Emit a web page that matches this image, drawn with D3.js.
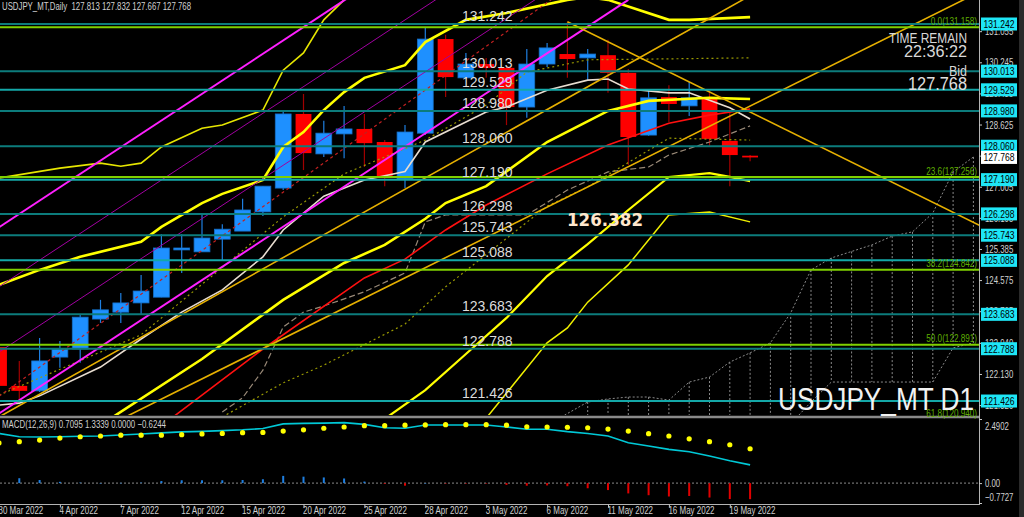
<!DOCTYPE html>
<html><head><meta charset="utf-8">
<script src="https://cdn.jsdelivr.net/npm/d3@7"></script>
<style>html,body{margin:0;padding:0;background:#000;overflow:hidden}text{white-space:pre}</style>
</head><body><svg id="c" width="1024" height="517"></svg>
<script>
// ---------------- DATA ----------------
const dates=["30 Mar 2022","31 Mar 2022","1 Apr 2022","4 Apr 2022","5 Apr 2022","6 Apr 2022","7 Apr 2022","8 Apr 2022","11 Apr 2022","12 Apr 2022","13 Apr 2022","14 Apr 2022","15 Apr 2022","18 Apr 2022","19 Apr 2022","20 Apr 2022","21 Apr 2022","22 Apr 2022","25 Apr 2022","26 Apr 2022","27 Apr 2022","28 Apr 2022","29 Apr 2022","2 May 2022","3 May 2022","4 May 2022","5 May 2022","6 May 2022","9 May 2022","10 May 2022","11 May 2022","12 May 2022","13 May 2022","16 May 2022","17 May 2022","18 May 2022","19 May 2022","20 May 2022"];
const open =[122.83,121.82,121.69,122.57,122.78,123.56,123.74,123.98,124.13,125.36,125.31,125.64,125.85,126.35,126.97,128.90,127.86,128.38,128.51,128.17,127.21,128.40,130.85,129.84,130.20,130.10,129.08,130.20,130.46,130.36,130.43,129.97,128.35,129.34,129.11,129.34,128.20,127.813];
const high =[122.95,122.47,123.07,122.99,123.67,124.06,124.24,124.71,125.77,125.77,126.30,126.03,126.69,127.02,128.98,129.42,128.72,129.11,128.90,128.22,128.61,131.16,130.96,130.49,130.36,130.14,130.59,130.75,131.30,130.59,130.83,130.07,129.52,129.65,129.73,129.47,128.98,127.832];
const low  =[121.60,121.40,121.66,122.29,122.42,123.46,123.46,123.69,124.13,124.76,125.31,125.10,125.85,126.24,126.92,127.44,127.78,127.75,127.52,127.02,126.97,128.35,129.34,129.82,129.84,128.61,128.80,130.12,129.84,129.78,129.45,127.57,128.33,128.69,128.85,128.04,127.02,127.667];
const close=[121.82,121.69,122.47,122.78,123.61,123.80,123.98,124.29,125.41,125.41,125.67,125.90,126.40,127.02,128.90,127.88,128.40,128.51,128.14,127.23,128.43,130.85,129.86,130.20,130.10,129.08,130.20,130.62,130.33,130.46,129.97,128.30,129.32,129.16,129.32,128.25,127.83,127.768];

// indicator lines: [bar index, price]
const bandUpper1=[[0,127.23],[3,127.49],[5,127.62],[6,127.54],[7,127.62],[8,128.04],[10,128.53],[11,128.61],[13,129.00],[14,130.04],[15,130.49],[16,131.35],[17,131.87],[18,132.60]];
const bandUpper2=[[0,124.45],[2,124.84],[4,125.18],[7,125.57],[8,125.96],[10,126.58],[11,126.82],[13,127.18],[14,128.04],[15,128.43],[16,129.00],[17,129.47],[18,129.84],[20,130.17],[21,130.77],[23,131.35],[25,131.53],[28,131.87],[29,131.94],[30,131.87],[33,131.35],[34,131.35],[37,131.42]];
const bandLow1=[[5,120.80],[10,122.52],[14,124.06],[17,125.02],[19,125.49],[21,126.17],[22,126.58],[24,127.02],[27,128.17],[30,128.98],[32,129.24],[35,129.32],[37,129.29]];
const bandLow2=[[19,120.96],[21,121.71],[23,122.65],[25,123.59],[27,124.68],[29,125.51],[31,126.40],[33,127.26],[35,127.36],[36,127.26],[37,127.15]];
const bandLow3=[[24,120.98],[27,122.94],[28,123.33],[29,124.00],[31,124.97],[33,126.27],[35,126.35],[37,126.09]];
const tenkan=[[0,121.32],[1,121.37],[2,121.56],[5,122.31],[7,123.04],[9,123.74],[11,124.32],[13,125.18],[14,125.88],[16,126.76],[18,127.18],[20,127.40],[21,128.17],[24,128.95],[25,129.08],[27,129.52],[29,129.78],[30,129.81],[31,129.55],[33,129.45],[34,129.45],[35,129.26],[36,129.06],[37,128.77]];
const maRed=[[8,120.78],[13,122.78],[18,124.63],[20,125.12],[22,125.88],[24,126.53],[27,127.34],[30,128.09],[33,128.66],[35,128.87],[37,129.03]];
const grayDash=[[11,121.14],[12,121.51],[13,122.23],[14,123.35],[15,123.74],[16,123.90],[18,124.27],[20,124.76],[21,126.09],[22,126.27],[26,126.27],[28,126.92],[30,127.39],[32,127.52],[33,127.83],[35,128.17],[37,128.59]];
const oliveDot1=[[0,121.58],[7,123.15],[14,126.22],[17,127.34],[21,128.22],[24,129.13],[26,129.99],[29,130.31],[37,130.36]];
const oliveDot2=[[11,121.01],[14,121.90],[16,122.36],[20,123.43],[22,124.40],[27,126.50],[29,127.00],[33,128.27],[37,128.22]];
const chanLower=[[0,121.10],[31,131.87]];
const chanUpper=[[0,125.95],[31,136.72]];
const chanInner1=[[0,122.70],[31,133.47]];
const chanInner2=[[0,124.40],[31,135.17]];
const regMid=[[0,121.55],[28,132.18]];
const goldDown=[[28,131.30],[48.3,126.00]];
const goldUp1=[[6,120.95],[48,132.00]];
const goldUp2=[[0,121.01],[37,131.98]];
const cloudStart=27;
const cloudA=[120.80,121.10,121.40,121.48,121.53,121.53,121.45,121.92,122.05,122.44,122.68,122.94,123.72,124.84,125.15,125.32,125.49,125.72,125.83,126.32,127.39,127.78];
const cloudB=[120.3,120.3,120.3,120.3,120.3,120.3,120.3,120.3,120.3,120.3,120.3,120.3,120.83,121.40,121.92,121.92,121.92,121.92,121.92,121.92,122.81,122.94];

const levels=[131.242,130.013,129.529,128.980,128.060,127.190,126.298,125.743,125.088,123.683,122.788,121.426];
const fibLevels=[131.158,127.256,124.842,122.891,120.940];
const fibNames=["0.0","23.6","38.2","50.0","61.8"];
const priceTicks=[131.055,130.245,129.435,128.625,127.815,127.005,126.195,125.385,124.575,123.765,122.940,122.130,121.320];
const bidPrice=127.768;
const keyLevel="126.382";

const macd=[1.93,1.80,1.79,1.80,1.82,1.83,1.87,1.91,1.95,1.99,2.01,2.04,2.07,2.12,2.30,2.32,2.33,2.35,2.28,2.15,2.13,2.26,2.26,2.26,2.26,2.18,2.09,2.09,2.00,1.93,1.83,1.57,1.44,1.31,1.22,1.05,0.87,0.7095];
const signal=[1.56,1.61,1.67,1.75,1.80,1.83,1.86,1.86,1.86,1.88,1.91,1.93,1.96,1.97,2.02,2.07,2.13,2.18,2.23,2.23,2.25,2.26,2.27,2.27,2.27,2.25,2.19,2.18,2.17,2.15,2.10,2.02,1.92,1.83,1.72,1.61,1.49,1.3339];
const hist=[0.35,0.19,0.12,0.05,0.02,0.00,0.01,0.02,0.08,0.11,0.11,0.11,0.12,0.15,0.28,0.25,0.22,0.18,0.06,-0.03,-0.10,0.00,-0.01,-0.01,-0.01,-0.07,-0.10,-0.09,-0.12,-0.20,-0.27,-0.40,-0.47,-0.52,-0.50,-0.56,-0.62,-0.6244];
const macdTicks=[2.4902,0,-0.7727];

// ---------------- LAYOUT ----------------
const W=1024,H=517,PR=979,MB=415,ST=419,SB=503;
const FONT="'Liberation Sans', Arial, sans-serif";
const svg=d3.select("#c");
svg.append("rect").attr("width",W).attr("height",H).attr("fill","#000");
const defs=svg.append("defs");
defs.append("clipPath").attr("id","cm").append("rect").attr("x",0).attr("y",0).attr("width",PR).attr("height",MB);
defs.append("clipPath").attr("id","cs").append("rect").attr("x",0).attr("y",ST-2).attr("width",PR).attr("height",SB-ST+3);

const x=d3.scaleLinear().domain([0,37]).range([-1,750.1]);
const y=d3.scaleLinear().domain([121.062,131.867]).range([MB,0]);
const ym=d3.scaleLinear().domain([-0.7727,2.4902]).range([SB,ST]);
const step=x(1)-x(0);

function fit(sel,w){sel.each(function(){this.setAttribute("textLength",w);this.setAttribute("lengthAdjust","spacingAndGlyphs");});return sel;}
function squeeze(sel,f){sel.each(function(){const n=this.getComputedTextLength();this.setAttribute("textLength",n*f);this.setAttribute("lengthAdjust","spacingAndGlyphs");});return sel;}

const g=svg.append("g").attr("clip-path","url(#cm)");
const line=d3.line().x(d=>x(d[0])).y(d=>y(d[1]));
function path(data,stroke,width,dash){const p=g.append("path").datum(data).attr("d",line).attr("fill","none").attr("stroke",stroke).attr("stroke-width",width);if(dash)p.attr("stroke-dasharray",dash);return p;}

// cloud (future kumo)
const cloudIdx=cloudA.map((v,i)=>cloudStart+i);
g.selectAll("line.cv").data(cloudIdx.filter(i=>i>=29)).enter().append("line")
 .attr("x1",i=>x(i)).attr("x2",i=>x(i)).attr("y1",i=>y(cloudA[i-cloudStart])).attr("y2",i=>y(cloudB[i-cloudStart]))
 .attr("stroke","#8a8a8a").attr("stroke-width",1).attr("stroke-dasharray","2,2");
path(cloudA.map((v,i)=>[cloudStart+i,v]),"#8a8a8a",1,"2,2");
path(cloudB.map((v,i)=>[cloudStart+i,v]),"#8a8a8a",1,"2,2");

// candles
const idx=d3.range(open.length);
const bw=step*0.78;
g.selectAll("line.wick").data(idx).enter().append("line")
 .attr("x1",i=>x(i)).attr("x2",i=>x(i)).attr("y1",i=>y(high[i])).attr("y2",i=>y(low[i]))
 .attr("stroke",i=>close[i]>=open[i]?"#1e7fe0":"#a00000").attr("stroke-width",1.2);
g.selectAll("rect.body").data(idx).enter().append("rect")
 .attr("x",i=>x(i)-bw/2).attr("width",bw)
 .attr("y",i=>y(Math.max(open[i],close[i])))
 .attr("height",i=>Math.max(1.5,Math.abs(y(open[i])-y(close[i]))))
 .attr("fill",i=>close[i]>=open[i]?"#1e90ff":"#ff0000")
 .attr("stroke",i=>close[i]>=open[i]?"#1570c8":"none").attr("stroke-width",0.8);

// indicators
path(grayDash,"#9a8a78",1.2,"6,3");
path(oliveDot1,"#9a9a00",1.2,"2,3");
path(oliveDot2,"#9a9a00",1.2,"2,3");
path(maRed,"#ff1010",1.6);
path(tenkan,"#e8ddd0",1.6);
path(bandUpper1,"#e6e600",1.6);
path(bandUpper2,"#ffff00",2.6);
path(bandLow1,"#ffff00",2.6);
path(bandLow2,"#ffff00",2.2);
path(bandLow3,"#f0f000",1.5);
path(regMid,"#c02020",1.2,"3,3");
path(chanInner1,"#a000a0",1);
path(chanInner2,"#a000a0",1);
path(chanLower,"#ff20ff",2);
path(chanUpper,"#ff20ff",2);
path(goldDown,"#e6b000",1.6);
path(goldUp1,"#e6b000",1.6);
path(goldUp2,"#e6b000",1.6);

// horizontal levels
g.selectAll("line.lv").data(levels).enter().append("line")
 .attr("x1",0).attr("x2",PR).attr("y1",d=>y(d)).attr("y2",d=>y(d))
 .attr("stroke",(d,i)=>i%3===2?"#14a8a8":"#0c7c7c").attr("stroke-width",2);
g.selectAll("line.fb").data(fibLevels).enter().append("line")
 .attr("x1",0).attr("x2",PR).attr("y1",d=>y(d)).attr("y2",d=>y(d))
 .attr("stroke","#7fd000").attr("stroke-width",2);

// frame lines
svg.append("line").attr("x1",0).attr("x2",PR).attr("y1",417).attr("y2",417).attr("stroke","#8a8a8a").attr("stroke-width",2.5);
svg.append("line").attr("x1",0).attr("x2",PR).attr("y1",SB+1.5).attr("y2",SB+1.5).attr("stroke","#b4b4b4").attr("stroke-width",1);
svg.append("line").attr("x1",PR+0.5).attr("x2",PR+0.5).attr("y1",0).attr("y2",SB+2).attr("stroke","#b4b4b4").attr("stroke-width",1);
svg.append("rect").attr("x",1019).attr("y",0).attr("width",5).attr("height",H).attr("fill","#2a2a2a");

// MACD panel
const gs=svg.append("g").attr("clip-path","url(#cs)");
gs.append("line").attr("x1",0).attr("x2",PR).attr("y1",ym(0)).attr("y2",ym(0)).attr("stroke","#8a8a8a").attr("stroke-dasharray","2,2");
gs.selectAll("rect.h").data(idx).enter().append("rect")
 .attr("x",i=>x(i)-1).attr("width",2)
 .attr("y",i=>Math.min(ym(0),ym(hist[i]))).attr("height",i=>Math.max(0.5,Math.abs(ym(hist[i])-ym(0))))
 .attr("fill",i=>hist[i]>=0?"#1e7fe0":"#e00000");
gs.append("path").datum(macd).attr("d",d3.line().x((d,i)=>x(i)).y(d=>ym(d))).attr("fill","none").attr("stroke","#00c8d6").attr("stroke-width",1.6);
gs.selectAll("circle.s").data(signal).enter().append("circle")
 .attr("cx",(d,i)=>x(i)).attr("cy",d=>ym(d)).attr("r",2.6).attr("fill","#ffff00");

// axes
const yAxis=d3.axisRight(y).tickValues(priceTicks).tickFormat(d3.format(".3f")).tickSize(3).tickPadding(3);
const gy=svg.append("g").attr("transform",`translate(${PR},0)`).call(yAxis);
gy.select(".domain").remove();
gy.selectAll("line").attr("stroke","#c8c8c8");
gy.selectAll("text").attr("fill","#d0d0d0").style("font",`11px ${FONT}`);
squeeze(gy.selectAll("text"),0.71);

const mAxis=d3.axisRight(ym).tickValues(macdTicks).tickFormat(d=>d===0?"0.00":d3.format(".4f")(d)).tickSize(3).tickPadding(3);
const gm=svg.append("g").attr("transform",`translate(${PR},0)`).call(mAxis);
gm.select(".domain").remove();
gm.selectAll("line").attr("stroke","#c8c8c8");
gm.selectAll("text").attr("fill","#d0d0d0").style("font",`11px ${FONT}`)
 .attr("dy",(d,i)=>i===0?"0.95em":i===2?"-0.2em":"0.32em");
squeeze(gm.selectAll("text"),0.71);

const xAxis=d3.axisBottom(x).tickValues(d3.range(0,dates.length,3)).tickFormat(i=>dates[i]).tickSize(3).tickPadding(-1);
const gx=svg.append("g").attr("transform",`translate(0,${SB+1.5})`).call(xAxis);
gx.select(".domain").remove();
gx.selectAll("line").attr("stroke","#c8c8c8");
gx.selectAll("text").attr("text-anchor","start").attr("dx",-1).attr("fill","#d0d0d0").style("font",`10.5px ${FONT}`);
squeeze(gx.selectAll("text"),0.76);

// right-axis level boxes
const lb=svg.append("g");
levels.forEach(v=>{
  lb.append("rect").attr("x",PR+2).attr("y",y(v)-6.5).attr("width",36).attr("height",13).attr("fill","#1ee6f6");
  fit(lb.append("text").attr("x",PR+20).attr("y",y(v)).attr("dy","0.35em").attr("text-anchor","middle").attr("fill","#000").style("font",`11px ${FONT}`).text(d3.format(".3f")(v)),31);
});
lb.append("rect").attr("x",PR+2).attr("y",y(bidPrice)-6.5).attr("width",36).attr("height",13).attr("fill","#fff");
fit(lb.append("text").attr("x",PR+20).attr("y",y(bidPrice)).attr("dy","0.35em").attr("text-anchor","middle").attr("fill","#000").style("font",`11px ${FONT}`).text(d3.format(".3f")(bidPrice)),31);

// chart texts
const tg=svg.append("g");
levels.forEach(v=>{
  tg.append("text").attr("x",462).attr("y",y(v)-3).attr("fill","#dcdcdc").style("font",`14px ${FONT}`).text(d3.format(".3f")(v));
});
fibLevels.forEach((v,i)=>{
  squeeze(tg.append("text").attr("x",977).attr("y",y(v)-2.5).attr("text-anchor","end").attr("fill","#5fae00").style("font",`11px ${FONT}`).text(`${fibNames[i]}(${d3.format(".3f")(v)})`),0.74);
});
fit(tg.append("text").attr("x",567).attr("y",226).attr("fill","#ffe6cc").style("font",`bold 17px 'DejaVu Sans', sans-serif`).text(keyLevel),76);
fit(tg.append("text").attr("x",2).attr("y",10).attr("fill","#d0d0d0").style("font",`11px ${FONT}`).text(`USDJPY_MT,Daily  ${d3.format(".3f")(open[37])} ${d3.format(".3f")(high[37])} ${d3.format(".3f")(low[37])} ${d3.format(".3f")(close[37])}`),189);
fit(tg.append("text").attr("x",2).attr("y",428).attr("fill","#d0d0d0").style("font",`11px ${FONT}`).text(`MACD(12,26,9) ${d3.format(".4f")(macd[37])} ${d3.format(".4f")(signal[37])} 0.0000 ${d3.format(".4f")(hist[37])}`),164);
fit(tg.append("text").attr("x",967).attr("y",43).attr("text-anchor","end").attr("fill","#d8d8d8").style("font",`15px ${FONT}`).text("TIME REMAIN"),78);
fit(tg.append("text").attr("x",967).attr("y",57).attr("text-anchor","end").attr("fill","#d8d8d8").style("font",`16px ${FONT}`).text("22:36:22"),63);
fit(tg.append("text").attr("x",967).attr("y",76).attr("text-anchor","end").attr("fill","#d8d8d8").style("font",`15px ${FONT}`).text("Bid"),18);
fit(tg.append("text").attr("x",967).attr("y",90).attr("text-anchor","end").attr("fill","#e0e0e0").style("font",`18px ${FONT}`).text(d3.format(".3f")(bidPrice)),59);
fit(tg.append("text").attr("x",778).attr("y",410).attr("fill","#f2f2f2").style("font",`31px ${FONT}`).text("USDJPY_MT D1"),196);
</script></body></html>
